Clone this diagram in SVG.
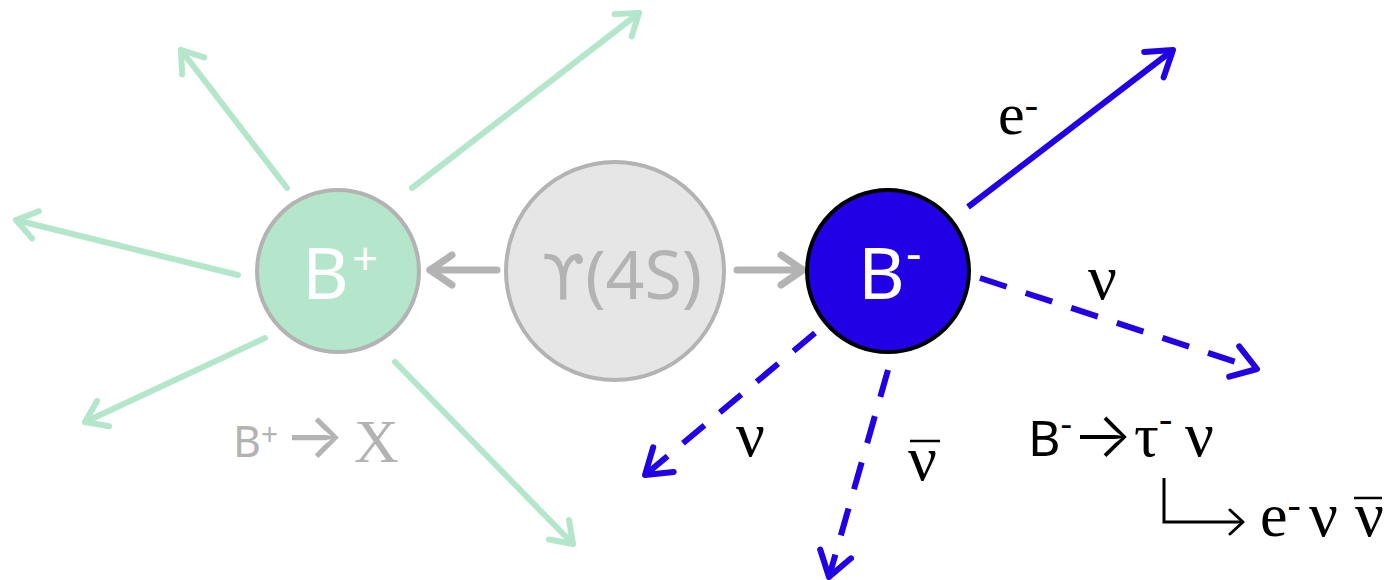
<svg xmlns="http://www.w3.org/2000/svg" width="1385" height="580" viewBox="0 0 1385 580">
<style>
.green{stroke:#b3e6cb;stroke-width:6;fill:none;stroke-linecap:round}
.gray{stroke:#b3b3b3;stroke-width:7;fill:none;stroke-linecap:round}
.blue{stroke:#2200e6;stroke-width:6;fill:none}
.dash{stroke-dasharray:28 20}
.sans{font-family:"Noto Sans","DejaVu Sans",sans-serif}
.serif{font-family:"Liberation Serif","Times New Roman",serif}
.arr{font-family:Inter,"DejaVu Sans",sans-serif}
</style>
<defs>
<marker id="mg" markerUnits="userSpaceOnUse" orient="auto" markerWidth="60" markerHeight="60" refX="0" refY="0" viewBox="-30 -30 60 60" overflow="visible">
<path d="M-20,-14 L0,0 L-20,14" fill="none" stroke="#b3e6cb" stroke-width="6" stroke-linecap="round" stroke-linejoin="round"/>
</marker>
<marker id="mgr" markerUnits="userSpaceOnUse" orient="auto" markerWidth="60" markerHeight="60" refX="0" refY="0" viewBox="-30 -30 60 60" overflow="visible">
<path d="M-22,-15 L0,0 L-22,15" fill="none" stroke="#b3b3b3" stroke-width="7" stroke-linecap="round" stroke-linejoin="round"/>
</marker>
<marker id="mb" markerUnits="userSpaceOnUse" orient="auto" markerWidth="60" markerHeight="60" refX="0" refY="0" viewBox="-30 -30 60 60" overflow="visible">
<path d="M-24,-16 L0,0 L-24,16" fill="none" stroke="#2200e6" stroke-width="6" stroke-linecap="round" stroke-linejoin="round"/>
</marker>
<marker id="mk" markerUnits="userSpaceOnUse" orient="auto" markerWidth="60" markerHeight="60" refX="0" refY="0" viewBox="-30 -30 60 60" overflow="visible">
<path d="M-13,-12 L0,0 L-13,12" fill="none" stroke="#000" stroke-width="3" stroke-linecap="round" stroke-linejoin="round"/>
</marker>
</defs>
<rect width="1385" height="580" fill="#fff"/>
<g id="connectors">
<line class="green" x1="287" y1="188" x2="181" y2="50" marker-end="url(#mg)"/>
<line class="green" x1="412" y1="188" x2="639" y2="13" marker-end="url(#mg)"/>
<line class="green" x1="238" y1="275" x2="16" y2="220" marker-end="url(#mg)"/>
<line class="green" x1="265" y1="338" x2="85" y2="422" marker-end="url(#mg)"/>
<line class="green" x1="395" y1="362" x2="573" y2="544" marker-end="url(#mg)"/>
<line class="gray" x1="497" y1="270" x2="430" y2="270" marker-end="url(#mgr)"/>
<line class="gray" x1="737" y1="270" x2="803" y2="270" marker-end="url(#mgr)"/>
<line class="blue" x1="968" y1="207" x2="1173" y2="50" marker-end="url(#mb)"/>
<line class="blue dash" x1="980" y1="278" x2="1257" y2="369" marker-end="url(#mb)"/>
<line class="blue dash" x1="815" y1="333" x2="645" y2="475" marker-end="url(#mb)"/>
<line class="blue dash" x1="888" y1="370" x2="829" y2="577" marker-end="url(#mb)"/>
<path d="M1164,478 L1164,522 L1243,522" fill="none" stroke="#000" stroke-width="3" marker-end="url(#mk)"/>
</g>
<g id="Bplus">
<circle cx="338" cy="271" r="81" fill="#b3e6cb" stroke="#b3b3b3" stroke-width="4"/>
<text class="sans" x="302" y="299" font-size="72" fill="#fff">B<tspan x="352" y="275" font-size="46">+</tspan></text>
</g>
<g id="Upsilon4S">
<circle cx="615" cy="271" r="109" fill="#e6e6e6" stroke="#b3b3b3" stroke-width="4"/>
<text class="sans" x="622" y="299" font-size="68" fill="#b3b3b3" text-anchor="middle"><tspan font-family="DejaVu Sans" font-size="62">ϒ</tspan>(4S)</text>
</g>
<g id="Bminus">
<circle cx="888" cy="271" r="81" fill="#2200e6" stroke="#000" stroke-width="4"/>
<text class="sans" x="858" y="299" font-size="72" fill="#fff">B<tspan x="906" y="270" font-size="48">-</tspan></text>
</g>
<g id="labels">
<text class="sans" x="233" y="457" font-size="43" fill="#b3b3b3">B<tspan y="445" font-size="30">+</tspan><tspan class="arr" x="284" y="458" font-size="64" font-weight="400">→</tspan><tspan font-family="Liberation Serif" x="354" y="462" font-size="62">X</tspan></text>
<text class="serif" x="998" y="134" font-size="60" fill="#000">e<tspan y="118" font-size="40">-</tspan></text>
<text class="serif" x="1088" y="299" font-size="64" fill="#000">ν</text>
<text class="serif" x="736" y="456" font-size="64" fill="#000">ν</text>
<text class="serif" x="908" y="480" font-size="64" fill="#000">ν</text>
<line x1="910" y1="441" x2="940" y2="441" stroke="#000" stroke-width="2.5"/>
<text class="sans" x="1028" y="456" font-size="50" fill="#000">B<tspan y="436" font-size="36">-</tspan><tspan class="arr" x="1072" y="457" font-size="64" font-weight="300">→</tspan><tspan font-family="Liberation Serif" x="1134" y="456" font-size="62">τ<tspan y="432" font-size="40">-</tspan></tspan><tspan font-family="Liberation Serif" x="1185" y="456" font-size="64">ν</tspan></text>
<text class="serif" x="1260" y="536" font-size="62" fill="#000">e<tspan y="518" font-size="40">-</tspan><tspan x="1309" y="536" font-size="64">ν</tspan><tspan x="1355" y="536" font-size="64">ν</tspan></text>
<line x1="1354" y1="498" x2="1382" y2="498" stroke="#000" stroke-width="2.5"/>
</g>
</svg>
